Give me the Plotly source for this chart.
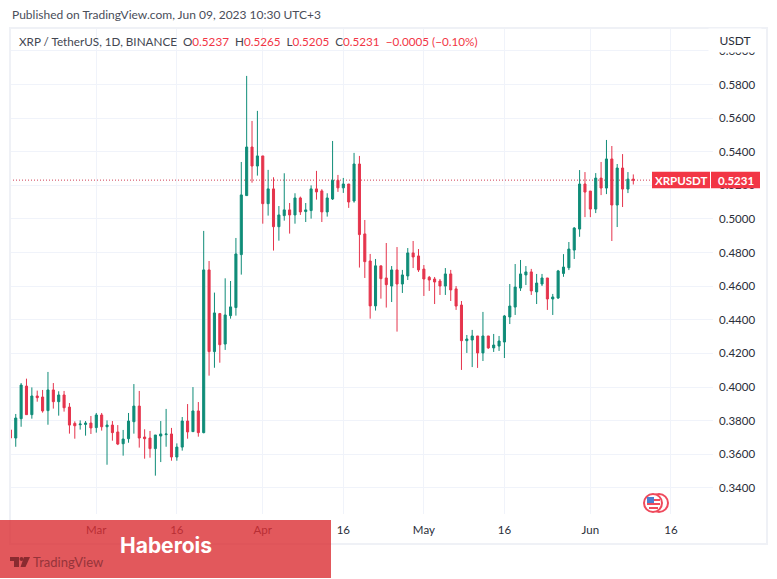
import pandas as pd
import plotly.graph_objects as go

dates = pd.date_range("2023-02-13", periods=117, freq="D").strftime("%Y-%m-%d").tolist()
open_ = [.3745,.3697,.3812,.4006,.3836,.3947,.3941,.3860,.3983,.3913,.3953,.3881,.3784,.3776,.3778,.3786,.3759,.3834,.3764,.3774,
         .3733,.3663,.3693,.3794,.3887,.3703,.3697,.3634,.3709,.3717,.3721,.3584,.3643,.3798,.3735,.3858,.3729,.4697,.4211,.4437,
         .4256,.4425,.4473,.4788,.5139,.5428,.5315,.5375,.5091,.5179,.4954,.5020,.5054,.5024,.5125,.5044,.5050,.5179,.5167,.5042,
         .5119,.5230,.5185,.5208,.5107,.5327,.4911,.4750,.4483,.4721,.4649,.4601,.4697,.4613,.4661,.4798,.4780,.4702,.4653,.4643,
         .4631,.4601,.4673,.4584,.4488,.4276,.4280,.4304,.4203,.4304,.4233,.4244,.4268,.4417,.4476,.4589,.4667,.4685,.4566,.4613,
         .4649,.4524,.4530,.4676,.4710,.4815,.4940,.5208,.5166,.5059,.5243,.5184,.5357,.5083,.5303,.5178,.5237]
high = [.3780,.3840,.4024,.4050,.3998,.3979,.3983,.4090,.4024,.3975,.3977,.3905,.3796,.3802,.3798,.3828,.3846,.3846,.3802,.3798,
        .3774,.3745,.3846,.4018,.3977,.3749,.3739,.3715,.3798,.3870,.3757,.3665,.3822,.3899,.4000,.3911,.4929,.4750,.4562,.4441,
        .4647,.4631,.4887,.5339,.5851,.5583,.5643,.5375,.5292,.5248,.5077,.5272,.5095,.5153,.5133,.5095,.5200,.5286,.5177,.5153,
        .5464,.5262,.5244,.5208,.5393,.5375,.4994,.4792,.4762,.4721,.4857,.4720,.4833,.4697,.4827,.4869,.4821,.4726,.4661,.4655,
        .4643,.4708,.4697,.4601,.4512,.4310,.4340,.4304,.4447,.4304,.4316,.4304,.4429,.4613,.4732,.4756,.4720,.4703,.4673,.4673,
        .4649,.4554,.4697,.4791,.4863,.4952,.5291,.5279,.5166,.5273,.5339,.5470,.5434,.5327,.5386,.5279,.5265]
low = [.3616,.3645,.3764,.3836,.3812,.3913,.3848,.3776,.3872,.3830,.3854,.3723,.3693,.3747,.3711,.3721,.3729,.3741,.3538,.3681,
       .3655,.3592,.3669,.3723,.3640,.3574,.3580,.3473,.3554,.3645,.3562,.3562,.3622,.3693,.3735,.3705,.3725,.4068,.4115,.4145,
       .4221,.4407,.4425,.4669,.5139,.5216,.5258,.4972,.5020,.4812,.4871,.4990,.4913,.4972,.5024,.4982,.5002,.5115,.4982,.5014,
       .5113,.5161,.5155,.5066,.5097,.4711,.4649,.4407,.4455,.4526,.4473,.4506,.4330,.4560,.4637,.4708,.4685,.4542,.4572,.4494,
       .4548,.4548,.4512,.4459,.4102,.4203,.4119,.4114,.4155,.4227,.4209,.4215,.4173,.4375,.4429,.4572,.4607,.4548,.4494,.4601,
       .4459,.4429,.4524,.4656,.4696,.4762,.4894,.5011,.5011,.5035,.5142,.5148,.4869,.4952,.5071,.5154,.5205]
close = [.3697,.3816,.4012,.3836,.3947,.3937,.3858,.3983,.3913,.3953,.3877,.3774,.3770,.3780,.3786,.3757,.3834,.3764,.3774,.3729,
         .3661,.3691,.3798,.3887,.3697,.3693,.3634,.3715,.3721,.3721,.3584,.3643,.3798,.3733,.3858,.3729,.4697,.4211,.4441,.4252,
         .4429,.4477,.4792,.5143,.5428,.5315,.5375,.5091,.5179,.4954,.5024,.5054,.5024,.5125,.5042,.5054,.5179,.5161,.5042,.5125,
         .5230,.5185,.5208,.5101,.5327,.4907,.4746,.4483,.4721,.4645,.4609,.4697,.4613,.4667,.4798,.4774,.4697,.4643,.4637,.4625,
         .4601,.4673,.4578,.4482,.4276,.4286,.4304,.4203,.4304,.4233,.4250,.4274,.4423,.4482,.4595,.4673,.4685,.4572,.4619,.4649,
         .4524,.4536,.4691,.4714,.4821,.4946,.5208,.5160,.5059,.5243,.5184,.5357,.5083,.5303,.5178,.5237,.5231]

price_ticks = [.34,.36,.38,.40,.42,.44,.46,.48,.50,.52,.54,.56,.58,.60]
time_tickvals = ["2023-03-01","2023-03-16","2023-04-01","2023-04-16","2023-05-01","2023-05-16","2023-06-01","2023-06-16"]
time_ticktext = ["Mar","16","Apr","16","May","16","Jun","16"]

UP, DOWN, GRID, TXT = "#0f8c78", "#e5344c", "#f0f3fa", "#2a2e39"
FONT = "Lato, Roboto, sans-serif"
W, H = 777, 579
L, R, T, B = 10, 713, 28, 514

def xp(px): return (px - L) / (R - L)
def yp(py): return (B - py) / (B - T)
def box(x0, y0, x1, y1, **kw):
    return dict(type="rect", xref="paper", yref="paper", x0=xp(x0), x1=xp(x1), y0=yp(y0), y1=yp(y1), **kw)
def circ(cx, cy, r, **kw):
    return dict(type="circle", xref="paper", yref="paper", x0=xp(cx-r), x1=xp(cx+r), y0=yp(cy+r), y1=yp(cy-r), **kw)
def poly(pts, **kw):
    d = "M" + " L".join(f"{xp(a):.5f},{yp(b):.5f}" for a, b in pts) + " Z"
    return dict(type="path", xref="paper", yref="paper", path=d, **kw)
def text(px, py, s, size=12, color=TXT, anchor="left", family=FONT, **kw):
    return dict(xref="paper", yref="paper", x=xp(px), y=yp(py), text=s, showarrow=False,
                xanchor=anchor, yanchor="middle", font=dict(family=family, size=size, color=color), **kw)

last = close[-1]
fig = go.Figure(go.Candlestick(
    x=dates, open=open_, high=high, low=low, close=close, whiskerwidth=0,
    increasing=dict(line=dict(color=UP, width=1), fillcolor=UP),
    decreasing=dict(line=dict(color=DOWN, width=1), fillcolor=DOWN),
    showlegend=False, hoverinfo="skip"))

shapes = [
    dict(type="line", xref="paper", yref="y", x0=0, x1=xp(652), y0=last, y1=last, layer="below",
         line=dict(color="#cf3f55", width=1, dash="1px,2px")),
    dict(type="rect", xref="paper", yref="paper", x0=xp(10), x1=xp(767), y0=yp(28), y1=yp(544),
         line=dict(color="#eff1f6", width=2), fillcolor="rgba(0,0,0,0)"),
    dict(type="rect", xref="paper", yref="y", x0=xp(652), x1=xp(710), ysizemode="pixel", yanchor=last, y0=-8, y1=8.5,
         fillcolor="#f23645", line=dict(width=0)),
    dict(type="rect", xref="paper", yref="y", x0=xp(711), x1=xp(760), ysizemode="pixel", yanchor=last, y0=-8, y1=8.5,
         fillcolor="#f23645", line=dict(width=0)),
    # event flag
    circ(659, 503, 9, fillcolor="white", line=dict(color="#ef4a5c", width=2)),
    circ(653, 503, 9, fillcolor="white", line=dict(color="#ef4a5c", width=2)),
    box(647, 503, 660, 505, fillcolor="#ef4a5c", line=dict(width=0)),
    box(648, 499, 660, 501, fillcolor="#ef4a5c", line=dict(width=0)),
    box(649, 507, 658, 509, fillcolor="#ef4a5c", line=dict(width=0)),
    box(647, 497, 654, 503, fillcolor="#4a7fd0", line=dict(width=0)),
    # watermark panel over the axis labels
    box(0, 520, 331, 578, fillcolor="rgba(219,46,51,0.8)", line=dict(width=0)),
    # logo
    poly([(10,557),(19,557),(19,567),(14,567),(14,561),(10,561)], fillcolor="#8a2b30", line=dict(width=0)),
    circ(21.5, 559, 2, fillcolor="#8a2b30", line=dict(width=0)),
    poly([(24,557),(30,557),(25.5,567),(20.5,567)], fillcolor="#8a2b30", line=dict(width=0)),
]

red = "#f23645"
ohlc = (f"O<span style='color:{red}'>{open_[-1]:.4f}</span>  H<span style='color:{red}'>{high[-1]:.4f}</span>  "
        f"L<span style='color:{red}'>{low[-1]:.4f}</span>  C<span style='color:{red}'>{last:.4f}</span>  "
        f"<span style='color:{red}'>\u22120.0005 (\u22120.10%)</span>")
annotations = [
    text(10, 14, "Published on TradingView.com, Jun 09, 2023 10:30 UTC+3", 12, "#4a4e5a"),
    text(17, 41, "XRP / TetherUS, 1D, BINANCE  " + ohlc, 11.7, "#434651"),
    dict(xref="paper", yref="paper", x=xp(735), y=yp(40), text="USDT", showarrow=False, xanchor="center",
         yanchor="middle", font=dict(family=FONT, size=12, color=TXT), bgcolor="white", width=50, height=21),
    dict(xref="paper", yref="y", x=xp(681), y=last, text="<b>XRPUSDT</b>", showarrow=False, xanchor="center",
         yanchor="middle", font=dict(family=FONT, size=11.5, color="white")),
    dict(xref="paper", yref="y", x=xp(736), y=last, text=f"<b>{last:.4f}</b>", showarrow=False, xanchor="center",
         yanchor="middle", font=dict(family=FONT, size=11.5, color="white")),
    text(166, 545, "<b>Haberois</b>", 21, "white", "center", family="Inter, Roboto, sans-serif"),
    text(31, 562, "TradingView", 13, "#96343a"),
]

fig.update_layout(
    width=W, height=H, autosize=False, paper_bgcolor="white", plot_bgcolor="white",
    margin=dict(l=L, r=W-R, t=T, b=H-B, pad=0), boxgap=0.45, showlegend=False,
    shapes=shapes, annotations=annotations, font=dict(family=FONT, size=12, color=TXT),
    xaxis=dict(type="date", range=["2023-02-12 22:20", "2023-06-23 20:10"], rangeslider=dict(visible=False),
               tickmode="array", tickvals=time_tickvals, ticktext=time_ticktext, tickangle=0,
               showgrid=True, gridcolor=GRID, gridwidth=1, zeroline=False, showline=False, ticks="",
               ticklabelstandoff=7, tickfont=dict(family=FONT, size=11.5, color=TXT)),
    yaxis=dict(side="right", range=[.3245, .6136], tickmode="array", tickvals=price_ticks,
               ticktext=[f"{v:.4f}" for v in price_ticks], showgrid=True, gridcolor=GRID, gridwidth=1,
               zeroline=False, showline=False, ticks="", ticklabelstandoff=5,
               tickfont=dict(family=FONT, size=11.5, color=TXT)),
)
fig.write_html("out.html", config=dict(displayModeBar=False), post_script="document.body.style.margin='0';")
